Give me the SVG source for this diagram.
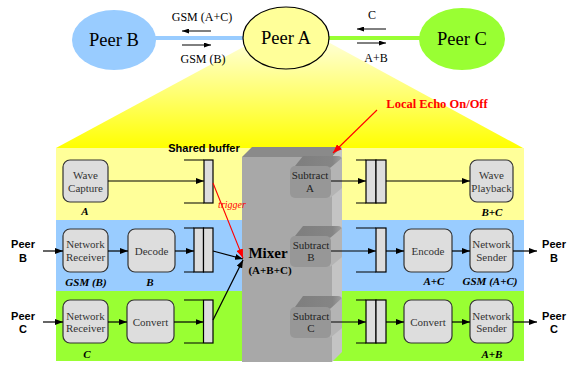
<svg xmlns="http://www.w3.org/2000/svg" width="568" height="366" viewBox="0 0 568 366">
<defs>
  <linearGradient id="beam" x1="0" y1="40" x2="0" y2="148" gradientUnits="userSpaceOnUse">
    <stop offset="0" stop-color="#ffffd8"/>
    <stop offset="0.5" stop-color="#ffff70"/>
    <stop offset="1" stop-color="#ffff00"/>
  </linearGradient>
  <linearGradient id="subTop" x1="0" y1="0" x2="1" y2="0">
    <stop offset="0" stop-color="#7e7e7e"/>
    <stop offset="0.8" stop-color="#858585"/>
    <stop offset="1" stop-color="#a0a0a0"/>
  </linearGradient>
  <marker id="ah" markerWidth="8" markerHeight="6" refX="8" refY="3" orient="auto" markerUnits="userSpaceOnUse">
    <path d="M0,0L8,3L0,6z" fill="#000"/>
  </marker>
  <marker id="ahs" markerWidth="7" markerHeight="5" refX="7" refY="2.5" orient="auto" markerUnits="userSpaceOnUse">
    <path d="M0,0L7,2.5L0,5z" fill="#000"/>
  </marker>
  <marker id="ahr" markerWidth="9" markerHeight="7" refX="9" refY="3.5" orient="auto" markerUnits="userSpaceOnUse">
    <path d="M0,0L9,3.5L0,7z" fill="#ff0000"/>
  </marker>
</defs>
<style>
  .serif{font-family:"Liberation Serif","Times New Roman",serif}
  .peer{font-family:"Liberation Serif","Times New Roman",serif;font-size:18.5px;text-anchor:middle;fill:#000}
  .top{font-family:"Liberation Serif","Times New Roman",serif;font-size:12px;text-anchor:middle;fill:#000}
  .box{fill:#dddddd;stroke:#333;stroke-width:1.2}
  .bt{font-family:"Liberation Serif","Times New Roman",serif;font-size:11px;text-anchor:middle;fill:#333}
  .st{font-family:"Liberation Serif","Times New Roman",serif;font-size:11px;text-anchor:middle;fill:#222}
  .lbl{font-family:"Liberation Serif","Times New Roman",serif;font-size:11px;font-weight:bold;font-style:italic;text-anchor:middle;fill:#000}
  .side{font-family:"Liberation Sans",Arial,sans-serif;font-size:11px;font-weight:bold;text-anchor:middle;fill:#000}
  .mix{font-family:"Liberation Serif","Times New Roman",serif;font-weight:bold;text-anchor:middle;fill:#000}
  .note{font-family:"Liberation Serif","Times New Roman",serif;text-anchor:middle;fill:#ff0000}
  .buf{fill:#dddddd;stroke:#000;stroke-width:1.2}
  .brk{stroke:#000;stroke-width:1.2;fill:none}
  .wire{stroke:#000;stroke-width:1.2;fill:none;marker-end:url(#ah)}
  .thin{stroke:#000;stroke-width:1;fill:none;marker-end:url(#ahs)}
  .red{stroke:#ff0000;stroke-width:1.1;fill:none;marker-end:url(#ahr)}
  .subF{fill:#979797}
  .subS{fill:#b4b4b4}
</style>

<!-- zoom beam from Peer A down to the detail panel -->
<polygon points="247,45 328,42 523,148 56,148" fill="url(#beam)"/>

<!-- links between peers -->
<g id="connectors-top">
  <line x1="155" y1="38" x2="245" y2="38" stroke="#99ccff" stroke-width="4"/>
  <line x1="327" y1="38" x2="421" y2="38" stroke="#99ff33" stroke-width="4"/>
  <line class="thin" x1="211" y1="31" x2="182" y2="31"/>
  <line class="thin" x1="182" y1="45" x2="211" y2="45"/>
  <line class="thin" x1="386" y1="29" x2="357" y2="29"/>
  <line class="thin" x1="357" y1="43" x2="386" y2="43"/>
  <text class="top" x="202" y="21">GSM (A+C)</text>
  <text class="top" x="203" y="63">GSM (B)</text>
  <text class="top" x="372" y="19">C</text>
  <text class="top" x="376" y="62">A+B</text>
</g>

<g id="peerB"><ellipse cx="114" cy="40" rx="42" ry="30" fill="#99ccff"/><text class="peer" x="114" y="46">Peer B</text></g>
<g id="peerA"><ellipse cx="286" cy="38" rx="43" ry="31" fill="#ffff99" stroke="#000" stroke-width="1.2"/><text class="peer" x="286" y="44">Peer A</text></g>
<g id="peerC"><ellipse cx="462" cy="39" rx="43" ry="31" fill="#99ff33"/><text class="peer" x="462" y="45">Peer C</text></g>

<!-- detail panel rows -->
<rect x="56" y="148" width="468" height="72" fill="#ffff99"/>
<rect x="56" y="220" width="468" height="71" fill="#99ccff"/>
<rect x="56" y="291" width="468" height="70" fill="#99ff33"/>

<!-- mixer block -->
<g id="mixer">
  <polygon points="242,157 252,147 342,147 332,157" fill="#8a8a8a"/>
  <polygon points="332,157 342,147 342,352 332,362" fill="#c4c4c4"/>
  <rect x="242" y="157" width="90" height="205" fill="#a8a8a8"/>
  <text class="mix" x="268" y="258" font-size="15">Mixer</text>
  <text class="mix" x="270" y="274" font-size="11">(A+B+C)</text>
</g>

<g id="subtractA">
  <path d="M295,166 L303,156 L338,156 Q342,156 342,160 L334,168 Z" fill="url(#subTop)"/>
  <path class="subS" d="M330,168 L342,158 L342,188 L330,198 Z"/>
  <rect class="subF" x="290" y="166" width="41" height="32" rx="5"/>
  <text class="st" x="310" y="179">Subtract</text><text class="st" x="310" y="192">A</text>
</g>
<g id="subtractB">
  <path d="M295,236 L303,226 L338,226 Q342,226 342,230 L334,238 Z" fill="url(#subTop)"/>
  <path class="subS" d="M330,238 L342,228 L342,257 L330,267 Z"/>
  <rect class="subF" x="290" y="236" width="41" height="31" rx="5"/>
  <text class="st" x="311" y="249">Subtract</text><text class="st" x="311" y="261">B</text>
</g>
<g id="subtractC">
  <path d="M295,307 L303,296 L338,296 Q342,296 342,300 L334,309 Z" fill="url(#subTop)"/>
  <path class="subS" d="M330,309 L342,298 L342,328 L330,338 Z"/>
  <rect class="subF" x="290" y="307" width="41" height="31" rx="5"/>
  <text class="st" x="311" y="320">Subtract</text><text class="st" x="311" y="332">C</text>
</g>

<!-- capture / playback row -->
<g id="waveCapture"><rect class="box" x="63" y="160" width="45" height="42" rx="7"/><text class="bt" x="85.5" y="179">Wave</text><text class="bt" x="85.5" y="192">Capture</text><text class="lbl" x="85" y="215">A</text></g>
<g id="sharedBuffer">
  <path class="brk" d="M184,160 H204 M184,203 H204"/>
  <rect class="buf" x="204" y="160" width="9" height="43"/>
  <text class="side" x="204" y="152">Shared buffer</text>
</g>
<g id="playBuffer">
  <path class="brk" d="M356,160 H366 M356,203 H366"/>
  <rect class="buf" x="366" y="160" width="10" height="43"/>
  <rect class="buf" x="376" y="160" width="10" height="43"/>
</g>
<g id="wavePlayback"><rect class="box" x="470" y="160" width="43" height="42" rx="7"/><text class="bt" x="491.5" y="179">Wave</text><text class="bt" x="491.5" y="192">Playback</text><text class="lbl" x="492" y="216">B+C</text></g>

<!-- peer B row -->
<text class="side" x="23" y="248">Peer</text><text class="side" x="23" y="262">B</text>
<g id="netRecvB"><rect class="box" x="63" y="229" width="45" height="43" rx="7"/><text class="bt" x="85.5" y="248">Network</text><text class="bt" x="85.5" y="261">Receiver</text><text class="lbl" x="86" y="286">GSM (B)</text></g>
<g id="decode"><rect class="box" x="128" y="229" width="47" height="43" rx="7"/><text class="bt" x="151.5" y="255">Decode</text><text class="lbl" x="150" y="286">B</text></g>
<g id="bufB">
  <path class="brk" d="M184,228 H194 M184,272 H194"/>
  <rect class="buf" x="194" y="228" width="9.5" height="44"/>
  <rect class="buf" x="203.5" y="228" width="9.5" height="44"/>
</g>
<g id="bufOutB">
  <path class="brk" d="M356,228 H376 M356,272 H376"/>
  <rect class="buf" x="376" y="228" width="10" height="44"/>
</g>
<g id="encode"><rect class="box" x="404" y="229" width="48" height="43" rx="7"/><text class="bt" x="428" y="255">Encode</text><text class="lbl" x="434" y="285">A+C</text></g>
<g id="netSendB"><rect class="box" x="470" y="229" width="43" height="43" rx="7"/><text class="bt" x="491.5" y="248">Network</text><text class="bt" x="491.5" y="261">Sender</text><text class="lbl" x="490" y="285">GSM (A+C)</text></g>
<text class="side" x="554" y="248">Peer</text><text class="side" x="554" y="262">B</text>

<!-- peer C row -->
<text class="side" x="23" y="320">Peer</text><text class="side" x="23" y="333">C</text>
<g id="netRecvC"><rect class="box" x="63" y="300" width="45" height="43" rx="7"/><text class="bt" x="85.5" y="320">Network</text><text class="bt" x="85.5" y="332">Receiver</text><text class="lbl" x="87" y="358">C</text></g>
<g id="convertIn"><rect class="box" x="127" y="300" width="47" height="43" rx="7"/><text class="bt" x="150.5" y="326">Convert</text></g>
<g id="bufC">
  <path class="brk" d="M184,300 H203 M184,343 H203"/>
  <rect class="buf" x="203.5" y="300" width="9.5" height="43"/>
</g>
<g id="bufOutC">
  <path class="brk" d="M356,300 H366 M356,343 H366"/>
  <rect class="buf" x="366" y="300" width="10" height="43"/>
  <rect class="buf" x="376" y="300" width="10" height="43"/>
</g>
<g id="convertOut"><rect class="box" x="404" y="300" width="48" height="43" rx="7"/><text class="bt" x="428" y="326">Convert</text></g>
<g id="netSendC"><rect class="box" x="470" y="300" width="43" height="43" rx="7"/><text class="bt" x="491.5" y="320">Network</text><text class="bt" x="491.5" y="332">Sender</text><text class="lbl" x="492" y="358">A+B</text></g>
<text class="side" x="554" y="320">Peer</text><text class="side" x="554" y="333">C</text>

<!-- data flow -->
<g id="connectors">
  <line class="wire" x1="108" y1="181" x2="204" y2="181"/>
  <line class="wire" x1="331" y1="181" x2="366" y2="181"/>
  <line class="wire" x1="386" y1="181" x2="470" y2="181"/>

  <line class="wire" x1="43" y1="251" x2="63" y2="251"/>
  <line class="wire" x1="108" y1="251" x2="128" y2="251"/>
  <line class="wire" x1="175" y1="251" x2="194" y2="251"/>
  <line class="wire" x1="213" y1="251" x2="243" y2="259"/>
  <line class="wire" x1="331" y1="251" x2="376" y2="251"/>
  <line class="wire" x1="386" y1="251" x2="404" y2="251"/>
  <line class="wire" x1="452" y1="251" x2="470" y2="251"/>
  <line class="wire" x1="513" y1="251" x2="537" y2="251"/>

  <line class="wire" x1="43" y1="322" x2="63" y2="322"/>
  <line class="wire" x1="108" y1="322" x2="127" y2="322"/>
  <line class="wire" x1="174" y1="322" x2="203.5" y2="322"/>
  <line class="wire" x1="213" y1="320" x2="243" y2="260"/>
  <line class="wire" x1="331" y1="322" x2="366" y2="322"/>
  <line class="wire" x1="386" y1="322" x2="404" y2="322"/>
  <line class="wire" x1="452" y1="322" x2="470" y2="322"/>
  <line class="wire" x1="513" y1="322" x2="537" y2="322"/>

  <line class="red" x1="213" y1="183" x2="243" y2="258"/>
  <text class="note" x="232" y="208" font-size="10" font-style="italic">trigger</text>

  <line class="red" x1="377" y1="110" x2="333" y2="153"/>
  <text class="note" x="437" y="108" font-size="12.5" font-weight="bold">Local Echo On/Off</text>
</g>
</svg>
